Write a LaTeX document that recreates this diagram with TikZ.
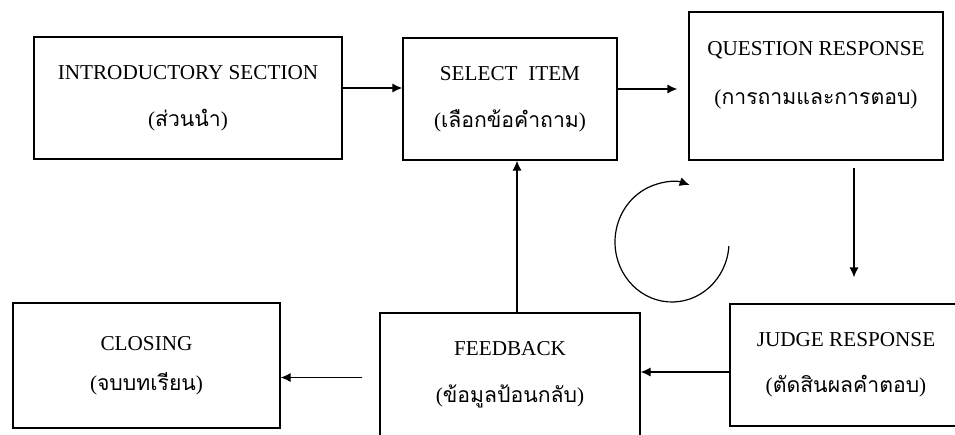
\documentclass[tikz,border=0pt]{standalone}
\usepackage{fontspec}
\setmainfont{Liberation Serif}
\newfontfamily\thaifont[Script=Thai]{Loma}
\usetikzlibrary{arrows.meta}

\newcommand{\thaitext}[1]{({\thaifont #1})}

\begin{document}
\begin{tikzpicture}[x=1pt,y=-1pt,
  box/.style={draw,line width=1.2pt,align=center,inner sep=0pt,
    font=\fontsize{21.2}{25}\selectfont},
  txt/.style={align=center,inner sep=0pt,font=\fontsize{21.2}{25}\selectfont},
  flow/.style={line width=1.2pt,-{Latex[length=10pt,width=9pt]}}]
\useasboundingbox (0,0) rectangle (955,434);

% top row
\node[box,minimum width=308pt,minimum height=122pt] (intro) at (188,98)
  {INTRODUCTORY SECTION\\[22pt]\thaitext{ส่วนนำ}};
\node[box,minimum width=214pt,minimum height=122pt] (select) at (510,99)
  {SELECT~ ITEM\\[22pt]\thaitext{เลือกข้อคำถาม}};
\node[box,minimum width=254pt,minimum height=148pt] (question) at (816,86) {};
\node[txt] (qtext) at (816,75)
  {QUESTION RESPONSE\\[24pt]\thaitext{การถามและการตอบ}};

% bottom row
\node[box,minimum width=267pt,minimum height=125pt] (closing) at (146.5,365.5)
  {CLOSING\\[15pt]\thaitext{จบบทเรียน}};
\node[box,minimum width=260pt,minimum height=123pt] (feedback) at (510,374.5)
  {FEEDBACK\\[22pt]\thaitext{ข้อมูลป้อนกลับ}};
\node[box,minimum width=232pt,minimum height=122pt] (judge) at (846,365)
  {JUDGE RESPONSE\\[21pt]\thaitext{ตัดสินผลคำตอบ}};

% connectors
\draw[flow] ([yshift=10pt]intro.east) -- ([yshift=10pt]intro.east -| select.west);
\draw[flow,shorten >=11pt] ([yshift=10pt]select.east) -- ([yshift=10pt]select.east -| question.west);
\draw[flow,shorten <=7pt,shorten >=26pt] ([xshift=38pt]question.south) -- ([xshift=38pt]question.south |- judge.north);
\draw[flow] ([yshift=-7pt]judge.west) -- ([yshift=-7pt]judge.west -| feedback.east);
\draw[flow,shorten <=17pt] ([yshift=-3pt]feedback.west) -- ([yshift=-3pt]feedback.west -| closing.east);
\draw[flow] ([xshift=7pt]feedback.north) -- ([xshift=7pt]feedback.north |- select.south);

% cycle mark
\draw[flow] (672,242) ++(-4:57pt and 60pt) arc[start angle=-4,end angle=-288,x radius=57pt,y radius=60pt];
\end{tikzpicture}
\end{document}
